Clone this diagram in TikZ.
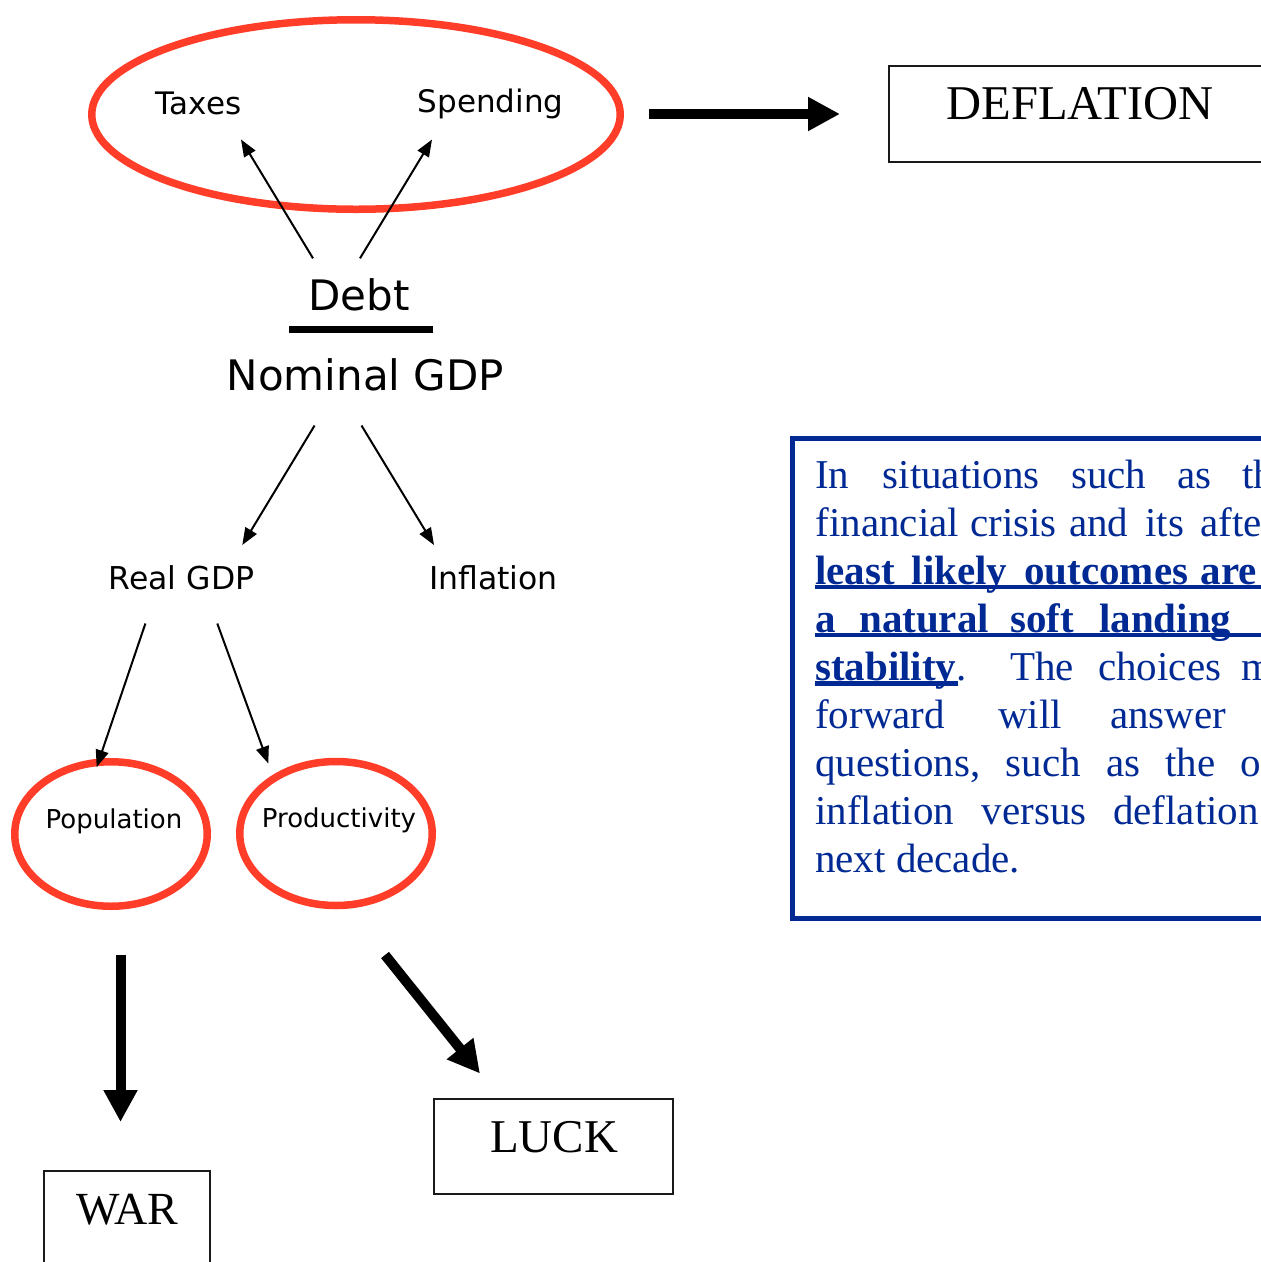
\documentclass[tikz,border=0pt]{standalone}
\usepackage{fontspec}
\setmainfont{Liberation Serif}
\newfontfamily\dejavu{DejaVu Sans}
\usetikzlibrary{shapes.geometric,arrows.meta,calc}
\definecolor{ovred}{RGB}{255,61,40}
\definecolor{navy}{RGB}{0,41,147}
\definecolor{boxline}{RGB}{25,25,25}
\begin{document}
\begin{tikzpicture}[x=1pt,y=-1pt,
  sans/.style={inner sep=0pt, anchor=base, font=\dejavu\fontsize{#1}{#1}\selectfont},
  ring/.style={draw=ovred, line width=7.5pt, ellipse, inner sep=0pt},
  thinarrow/.style={line width=2pt, -{Triangle[length=17pt,width=13pt]}},
  fatarrow/.style={line width=10pt, -{Triangle[length=32pt,width=32pt]}},
  framebox/.style={draw=boxline, line width=2pt, rectangle, inner sep=0pt},
  capword/.style={inner sep=0pt, anchor=base, font=\fontsize{#1}{#1}\selectfont},
  bt/.style={text=navy, inner sep=0pt, anchor=base west, font=\fontsize{41}{48}\selectfont},
  bb/.style={text=navy, inner sep=0pt, anchor=base west, font=\fontsize{41}{48}\selectfont\bfseries},
  underl/.style={draw=navy, line width=4.5pt}
]
\useasboundingbox (0,0) rectangle (1261,1262);
\clip (0,0) rectangle (1261,1262);

% ---- top cluster
\node[ring, minimum width=528.5pt, minimum height=189.5pt] (big) at (356,114.5) {};
\node[sans=31] (taxes) at (198.5,114) {Taxes};
\node[sans=31] (spending) at (490.5,112) {Spending};

\node[sans=42] (debt) at (359,310.5) {Debt};
\node[fill=black, inner sep=0pt, minimum width=144pt, minimum height=7pt] (bar) at (360.6,329.7) {};
\node[sans=42] (nominal) at (365.5,390) {Nominal GDP};

\coordinate (ta0) at (313,258.3);
\coordinate (ta1) at (241,139.5);
\coordinate (sp0) at (360,258.3);
\coordinate (sp1) at (432,139.5);
\draw[thinarrow] (ta0) -- (ta1);
\draw[thinarrow] (sp0) -- (sp1);

% ---- middle
\node[sans=31.5] (real) at (181.5,589) {Real GDP};
\node[sans=31.5] (infl) at (493.5,589) {Inflation};
\coordinate (re0) at (314.6,425.5);
\coordinate (re1) at (242.3,545);
\coordinate (in0) at (361.5,425.5);
\coordinate (in1) at (434,545);
\draw[thinarrow] (re0) -- (re1);
\draw[thinarrow] (in0) -- (in1);

% ---- lower ellipses
\node[ring, minimum width=192.5pt, minimum height=144.5pt] (popring) at (111,834) {};
\node[ring, minimum width=192.5pt, minimum height=144pt] (prodring) at (336,833.5) {};
\node[sans=26] (pop) at (114,828) {Population};
\node[sans=26] (prod) at (339,827) {Productivity};
\coordinate (po0) at (145.4,623.5);
\coordinate (po1) at (96.7,767);
\coordinate (pr0) at (217.3,623.5);
\coordinate (pr1) at (268.3,763.5);
\draw[thinarrow] (po0) -- (po1);
\draw[thinarrow] (pr0) -- (pr1);

% ---- outcome boxes
\node[framebox, minimum width=382.6pt, minimum height=96.3pt] (deflbox) at (1080,114.2) {};
\node[capword=48.5] (defl) at (1080,119.5) {DEFLATION};
\node[framebox, minimum width=239pt, minimum height=94.7pt] (luckbox) at (553.5,1146.7) {};
\node[capword=47] (luck) at (554,1152) {LUCK};
\node[framebox, minimum width=166.3pt, minimum height=96pt] (warbox) at (126.75,1219) {};
\node[capword=46] (war) at (127.5,1224) {WAR};

% ---- thick arrows
\coordinate (de0) at (649,114);
\coordinate (de1) at (840,114);
\draw[fatarrow] (de0) -- (de1);
\coordinate (wa0) at (120.5,954.5);
\coordinate (wa1) at (120.5,1122);
\draw[fatarrow] (wa0) -- (wa1);
\coordinate (lu0) at (385,955);
\coordinate (lu1) at (480,1073.5);
\draw[fatarrow] (lu0) -- (lu1);

% ---- blue text box
\node[draw=navy, line width=5pt, inner sep=0pt, minimum width=497.5pt, minimum height=480pt] (bluebox) at (1041.25,678.5) {};

\node[bt] (l1a) at (815,488) {In};
\node[bt] (l1b) at (882.5,488) {situations};
\node[bt] (l1c) at (1071,488) {such};
\node[bt] (l1d) at (1177.5,488) {as};
\node[bt] (l1e) at (1242,488) {th};

\node[bt] (l2a) at (815.5,536) {financial};
\node[bt] (l2b) at (970,536) {crisis};
\node[bt] (l2c) at (1069,536) {and};
\node[bt] (l2d) at (1145,536) {its};
\node[bt] (l2e) at (1200.5,536) {afte};

\node[bb] (l3a) at (815,584) {least};
\node[bb] (l3b) at (911.5,584) {likely};
\node[bb] (l3c) at (1024,584) {outcomes};
\node[bb] (l3d) at (1200.5,584) {are};
\draw[underl] (815,587) -- (1261,587);

\node[bb] (l4a) at (815,632) {a};
\node[bb] (l4b) at (859,632) {natural};
\node[bb] (l4c) at (1010,632) {soft};
\node[bb] (l4d) at (1099,632) {landing};
\draw[underl] (815,635) -- (1261,635);

\node[bt] (l5a) at (815,680) {\textbf{stability}.};
\draw[underl] (815,683.5) -- (958,683.5);
\node[bt] (l5b) at (1010,680) {The};
\node[bt] (l5c) at (1098,680) {choices};
\node[bt] (l5d) at (1241,680) {m};

\node[bt] (l6a) at (815,728) {forward};
\node[bt] (l6b) at (998,728) {will};
\node[bt] (l6c) at (1110,728) {answer};

\node[bt] (l7a) at (815,776) {questions,};
\node[bt] (l7b) at (1005.5,776) {such};
\node[bt] (l7c) at (1106,776) {as};
\node[bt] (l7d) at (1165,776) {the};
\node[bt] (l7e) at (1240.5,776) {o};

\node[bt] (l8a) at (815,824) {inflation};
\node[bt] (l8b) at (981.5,824) {versus};
\node[bt] (l8c) at (1113,824) {deflation};

\node[bt] (l9a) at (815,872) {next decade.};
\end{tikzpicture}
\end{document}
